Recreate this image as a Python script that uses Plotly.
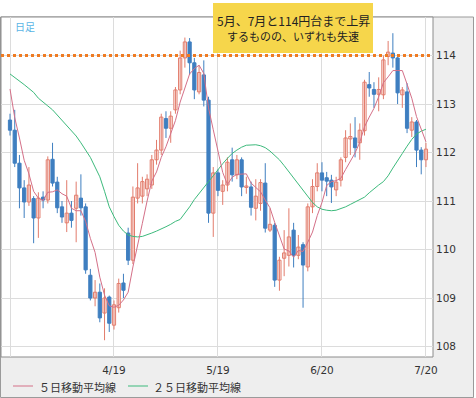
import plotly.graph_objects as go

# ---------------- data ----------------
dates = [
    "3/20", "3/21", "3/22", "3/23", "3/24", "3/27", "3/28", "3/29", "3/30", "3/31",
    "4/3", "4/4", "4/5", "4/6", "4/7", "4/10", "4/11", "4/12", "4/13", "4/14",
    "4/17", "4/18", "4/19", "4/20", "4/21", "4/24", "4/25", "4/26", "4/27", "4/28",
    "5/1", "5/2", "5/3", "5/4", "5/5", "5/8", "5/9", "5/10", "5/11", "5/12",
    "5/15", "5/16", "5/17", "5/18", "5/19", "5/22", "5/23", "5/24", "5/25", "5/26",
    "5/29", "5/30", "5/31", "6/1", "6/2", "6/5", "6/6", "6/7", "6/8", "6/9",
    "6/12", "6/13", "6/14", "6/15", "6/16", "6/19", "6/20", "6/21", "6/22", "6/23",
    "6/26", "6/27", "6/28", "6/29", "6/30", "7/3", "7/4", "7/5", "7/6", "7/7",
    "7/10", "7/11", "7/12", "7/13", "7/14", "7/17", "7/18", "7/19", "7/20",
]

opens = [
    112.67, 112.46, 111.78, 111.27, 110.98, 111.05, 110.65, 111.08, 111.02, 111.86,
    111.39, 110.88, 110.55, 110.75, 110.85, 111.06, 110.88, 109.47, 109.00, 109.12,
    108.69, 109.02, 108.44, 108.80, 109.31, 110.34, 109.78, 111.06, 111.10, 111.25,
    111.33, 111.85, 112.05, 112.70, 112.50, 112.88, 113.29, 113.95, 114.28, 113.85,
    113.25, 113.60, 113.08, 110.75, 111.58, 111.20, 111.33, 111.85, 111.54, 111.85,
    111.28, 111.29, 110.85, 110.95, 111.37, 110.40, 110.50, 109.37, 109.82, 109.88,
    110.40, 109.88, 110.10, 109.64, 110.88, 111.30, 111.58, 111.48, 111.43, 111.23,
    111.43, 111.90, 112.28, 112.30, 112.20, 112.45, 113.40, 113.30, 113.20, 113.19,
    113.98, 114.05, 113.95, 113.19, 113.25, 112.46, 112.63, 112.05, 111.85,
]
highs = [
    112.80, 112.88, 111.95, 111.43, 111.70, 111.10, 111.18, 111.20, 111.92, 112.20,
    111.50, 111.00, 111.43, 111.00, 111.40, 111.55, 110.95, 109.60, 109.37, 109.30,
    109.20, 109.05, 108.95, 109.40, 109.50, 110.45, 111.30, 111.78, 111.50, 111.55,
    111.95, 112.26, 112.80, 112.85, 112.85, 113.35, 114.10, 114.37, 114.36, 113.95,
    113.80, 113.90, 113.15, 111.70, 111.65, 111.43, 111.90, 112.10, 111.95, 111.90,
    111.50, 111.40, 111.45, 111.45, 111.78, 110.85, 110.55, 109.85, 110.40, 110.85,
    110.55, 110.30, 110.15, 110.95, 111.45, 111.78, 111.80, 111.60, 111.54, 111.50,
    111.90, 112.46, 112.60, 112.73, 112.60, 113.50, 113.66, 113.45, 113.55, 114.00,
    114.30, 114.46, 114.00, 113.35, 113.43, 112.73, 112.67, 112.11, 112.20,
]
lows = [
    112.35, 111.70, 110.85, 110.65, 110.90, 110.13, 110.24, 110.85, 110.95, 111.30,
    110.75, 110.55, 110.36, 110.45, 110.15, 110.70, 109.50, 108.95, 108.83, 108.50,
    108.13, 108.30, 108.35, 108.70, 109.00, 109.68, 109.70, 110.95, 110.95, 111.10,
    111.25, 111.75, 111.95, 112.30, 112.20, 112.80, 113.20, 113.75, 113.60, 113.10,
    113.20, 112.95, 110.55, 110.26, 111.10, 110.92, 111.20, 111.40, 111.45, 111.10,
    111.15, 110.70, 110.60, 110.80, 110.35, 110.36, 109.23, 109.15, 109.45, 109.65,
    109.63, 109.80, 108.80, 109.55, 110.75, 111.20, 111.20, 111.10, 110.96, 111.10,
    111.30, 111.80, 111.95, 111.90, 111.85, 112.35, 113.15, 112.92, 112.85, 113.10,
    113.80, 113.75, 113.00, 112.92, 112.40, 112.32, 111.70, 111.55, 111.70,
]
closes = [
    112.46, 111.78, 111.27, 110.98, 111.33, 110.65, 111.06, 111.02, 111.85, 111.37,
    110.86, 110.67, 110.75, 110.60, 111.12, 110.86, 109.58, 109.00, 109.12, 108.59,
    109.00, 108.48, 108.86, 109.30, 109.16, 109.78, 111.08, 111.27, 111.40, 111.45,
    111.85, 112.05, 112.73, 112.50, 112.75, 113.29, 113.95, 114.28, 113.85, 113.29,
    113.65, 113.08, 110.75, 111.58, 111.22, 111.33, 111.80, 111.54, 111.85, 111.29,
    111.31, 110.87, 111.10, 111.38, 110.44, 110.52, 109.37, 109.78, 109.93, 110.26,
    109.88, 110.05, 109.68, 110.88, 111.30, 111.58, 111.43, 111.41, 111.29, 111.39,
    111.85, 112.30, 112.33, 112.10, 112.46, 113.45, 113.33, 113.20, 113.30, 113.91,
    114.07, 113.95, 113.23, 113.29, 112.50, 112.63, 112.05, 111.85, 112.07,
]
ma5 = [
    113.31, 112.72, 112.30, 111.84, 111.56, 111.20, 111.06, 111.01, 111.18, 111.19,
    111.23, 111.15, 111.10, 110.85, 110.80, 110.80, 110.58, 110.23, 109.94, 109.43,
    109.06, 108.84, 108.81, 108.85, 108.96, 109.12, 109.64, 110.12, 110.54, 111.00,
    111.41, 111.60, 111.90, 112.12, 112.38, 112.66, 113.04, 113.35, 113.62, 113.73,
    113.80, 113.63, 112.92, 112.47, 112.06, 111.59, 111.34, 111.49, 111.55, 111.56,
    111.56, 111.37, 111.28, 111.19, 111.02, 110.86, 110.56, 110.30, 110.01, 109.97,
    109.84, 109.98, 109.96, 110.15, 110.36, 110.70, 110.97, 111.32, 111.40, 111.42,
    111.47, 111.65, 111.83, 111.99, 112.21, 112.53, 112.73, 112.91, 113.15, 113.44,
    113.56, 113.69, 113.69, 113.69, 113.41, 113.12, 112.74, 112.46, 112.22,
]
ma25 = [
    113.62, 113.55, 113.47, 113.40, 113.32, 113.24, 113.12, 113.03, 112.96, 112.88,
    112.77, 112.67, 112.57, 112.45, 112.34, 112.20, 112.06, 111.90, 111.70, 111.50,
    111.20, 110.88, 110.68, 110.50, 110.38, 110.30, 110.27, 110.26, 110.27, 110.30,
    110.34, 110.38, 110.42, 110.47, 110.52, 110.58, 110.62, 110.74, 110.88, 111.03,
    111.16, 111.28, 111.40, 111.52, 111.65, 111.77, 111.88, 111.98, 112.05, 112.11,
    112.15, 112.16, 112.16, 112.14, 112.10, 112.03, 111.94, 111.85, 111.73, 111.60,
    111.47, 111.35, 111.22, 111.08, 110.97, 110.88, 110.83, 110.81, 110.80, 110.81,
    110.84, 110.88, 110.93, 110.98, 111.03, 111.08, 111.17, 111.26, 111.33, 111.40,
    111.52, 111.68, 111.82, 111.98, 112.13, 112.27, 112.38, 112.44, 112.48,
]

grid_dates = ["3/20", "4/19", "5/19", "6/20", "7/20"]
tick_labels = ["", "4/19", "5/19", "6/20", "7/20"]
y_ticks = [108, 109, 110, 111, 112, 113, 114]
resistance_level = 114

title_tag = "日足"
note_lines = ["5月、7月と114円台まで上昇", "するものの、いずれも失速"]
legend_names = ["５日移動平均線", "２５日移動平均線"]

# ---------------- styling / layout ----------------
W, H = 476, 398
ML, MR, MT, MB = 1, 43, 17, 41
PW, PH = W - ML - MR, H - MT - MB


def px(x):
    return (x - ML) / PW


def py(y):
    return (H - MB - y) / PH


UP_LINE = "#e27c6c"
UP_FILL = "#fff6f4"
DOWN = "#3f7fc0"
MA5_COL = "#d47088"
MA25_COL = "#3dba7c"
JP_FONT = "Noto Sans CJK JP"
NUM_FONT = "DejaVu Sans"

fig = go.Figure()

# wicks
for up in (True, False):
    wx, wy = [], []
    for d, o, h, l, c in zip(dates, opens, highs, lows, closes):
        if (c >= o) == up:
            wx += [d, d, None]
            wy += [l, h, None]
    fig.add_trace(go.Scatter(
        x=wx, y=wy, mode="lines", hoverinfo="skip", showlegend=False,
        line=dict(color=UP_LINE if up else DOWN, width=1),
    ))

# bodies
for up in (True, False):
    bx, bh, bb = [], [], []
    for d, o, c in zip(dates, opens, closes):
        if (c >= o) == up:
            bx.append(d)
            bb.append(o)
            diff = c - o
            if abs(diff) < 0.02:
                diff = 0.02 if up else -0.02
            bh.append(diff)
    fig.add_trace(go.Bar(
        x=bx, y=bh, base=bb, width=0.68, showlegend=False,
        marker=dict(color=UP_FILL if up else DOWN,
                    line=dict(color=UP_LINE if up else DOWN, width=1)),
    ))

fig.add_trace(go.Scatter(x=dates, y=ma25, mode="lines", showlegend=False,
                         line=dict(color=MA25_COL, width=1)))
fig.add_trace(go.Scatter(x=dates, y=ma5, mode="lines", showlegend=False,
                         line=dict(color=MA5_COL, width=1)))

shapes = [
    # outer grey panel
    dict(type="rect", xref="paper", yref="paper", x0=px(0.5), x1=px(473.5),
         y0=py(397.5), y1=py(17), fillcolor="#eeeeee",
         line=dict(color="#9a9a9a", width=1), layer="below"),
    # white plot area
    dict(type="rect", xref="paper", yref="paper", x0=0, x1=1, y0=0, y1=1,
         fillcolor="white", line=dict(color="#8c8c8c", width=1), layer="below"),
    # resistance line
    dict(type="line", xref="paper", yref="y", x0=0, x1=1,
         y0=resistance_level, y1=resistance_level,
         line=dict(color="#ef7b22", width=3, dash="dot"), layer="above"),
    # note box
    dict(type="rect", xref="paper", yref="paper", x0=px(213), x1=px(373),
         y0=py(53), y1=py(3), fillcolor="#f6d64b", line=dict(width=0),
         layer="above"),
    # legend samples
    dict(type="line", xref="paper", yref="paper", x0=px(13), x1=px(33),
         y0=py(386), y1=py(386), line=dict(color=MA5_COL, width=1)),
    dict(type="line", xref="paper", yref="paper", x0=px(128), x1=px(148),
         y0=py(386), y1=py(386), line=dict(color=MA25_COL, width=1)),
]

annotations = [
    dict(text=note_lines[0], x=px(293), y=py(21), xref="paper", yref="paper",
         xanchor="center", yanchor="middle", showarrow=False,
         font=dict(family=JP_FONT, size=12, color="#222")),
    dict(text=note_lines[1], x=px(293), y=py(36), xref="paper", yref="paper",
         xanchor="center", yanchor="middle", showarrow=False,
         font=dict(family=JP_FONT, size=11, color="#222")),
    dict(text=title_tag, x=px(13), y=py(26), xref="paper", yref="paper",
         xanchor="left", yanchor="middle", showarrow=False,
         font=dict(family=JP_FONT, size=10, color="#5ab4e5")),
    dict(text=legend_names[0], x=px(37), y=py(387), xref="paper", yref="paper",
         xanchor="left", yanchor="middle", showarrow=False,
         font=dict(family=JP_FONT, size=11, color="#333")),
    dict(text=legend_names[1], x=px(151), y=py(387), xref="paper", yref="paper",
         xanchor="left", yanchor="middle", showarrow=False,
         font=dict(family=JP_FONT, size=11, color="#333")),
]

fig.update_layout(
    template="none",
    width=W, height=H,
    margin=dict(l=ML, r=MR, t=MT, b=MB, pad=0),
    paper_bgcolor="white",
    plot_bgcolor="rgba(0,0,0,0)",
    barmode="overlay",
    showlegend=False,
    font=dict(family=NUM_FONT, size=10.5, color="#333"),
    shapes=shapes,
    annotations=annotations,
    xaxis=dict(
        type="category", categoryorder="array", categoryarray=dates,
        range=[-1.904, 89.49], tickvals=grid_dates, ticktext=tick_labels,
        showgrid=True, gridcolor="#dcdcdc", gridwidth=1, ticks="",
        showline=False, zeroline=False, automargin=False,
        ticklabelstandoff=5, fixedrange=True,
    ),
    yaxis=dict(
        side="right", range=[107.784, 114.794], tickvals=y_ticks,
        showgrid=True, gridcolor="#dcdcdc", gridwidth=1, ticks="",
        showline=False, zeroline=False, automargin=False,
        ticklabelstandoff=2, fixedrange=True,
    ),
)

fig.write_html(
    "out.html",
    config={"displayModeBar": False},
    post_script="document.body.style.margin='0';document.body.style.padding='0';",
)
